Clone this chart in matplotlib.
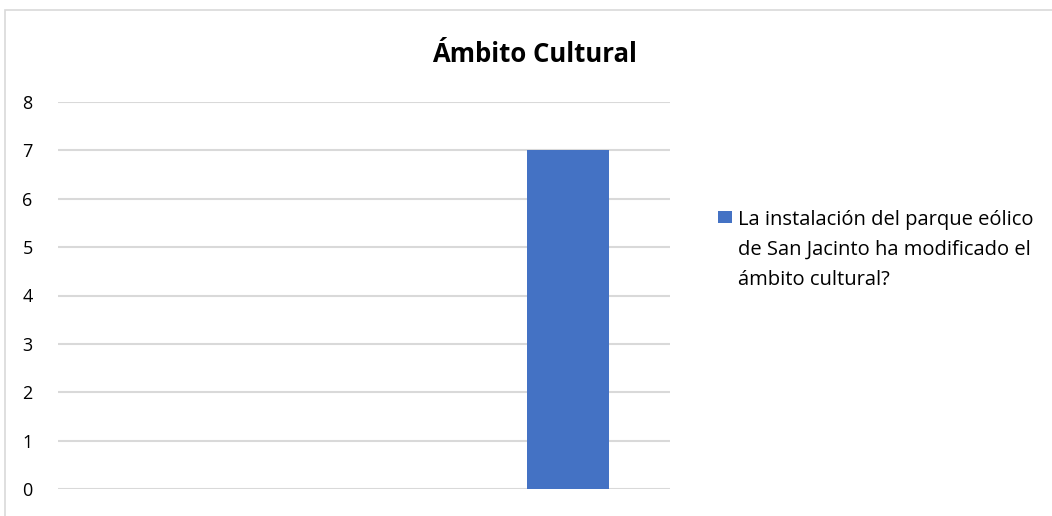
import matplotlib
matplotlib.use("Agg")
import matplotlib.pyplot as plt
from matplotlib.patches import Rectangle

categories = ["", "", ""]
values = [0, 0, 7]
series_name = "La instalación del parque eólico\nde San Jacinto ha modificado el\námbito cultural?"
title = "Ámbito Cultural"
yticks = [0, 1, 2, 3, 4, 5, 6, 7, 8]

plt.rcParams['font.family'] = ['Open Sans', 'DejaVu Sans']

W, H = 1052, 516
BLUE = '#4472C4'
fig = plt.figure(figsize=(W/100, H/100), dpi=100)
fig.patches.append(Rectangle((5/W, -0.01), 1.2, 1 - 10/H + 0.01, transform=fig.transFigure,
                             fill=False, edgecolor='#d9d9d9', linewidth=1.2))

ax = fig.add_axes([58/W, 1 - 489/H, (670-58)/W, (489-102)/H])
x = list(range(len(categories)))
ax.bar(x, values, width=0.4, color=BLUE, zorder=3)
ax.set_xlim(-0.5, len(categories) - 0.5)
ax.set_ylim(0, 8)
ax.set_yticks(yticks)
ax.set_yticklabels([str(t) for t in yticks], fontsize=13, color='#000000')
ax.set_xticks([])
ax.tick_params(axis='y', length=0, pad=22)
for s in ax.spines.values():
    s.set_visible(False)
ax.grid(axis='y', color='#d9d9d9', linewidth=1.5, zorder=0)
for lbl in ax.get_yticklabels():
    lbl.set_horizontalalignment('center')

fig.text(534/W, 1 - 55/H, title, fontsize=18.5, fontweight='bold', ha='center', va='center')

# legend (drawn manually to align marker with first line)
fig.patches.append(Rectangle((718/W, 1 - 223/H), 14/W, 12/H, transform=fig.transFigure,
                             facecolor=BLUE, edgecolor='none'))
for i, line in enumerate(series_name.split("\n")):
    fig.text(738/W, 1 - (225 + 30*i)/H, line, fontsize=14.5, ha='left', va='baseline')

fig.savefig("out.png", dpi=100)
